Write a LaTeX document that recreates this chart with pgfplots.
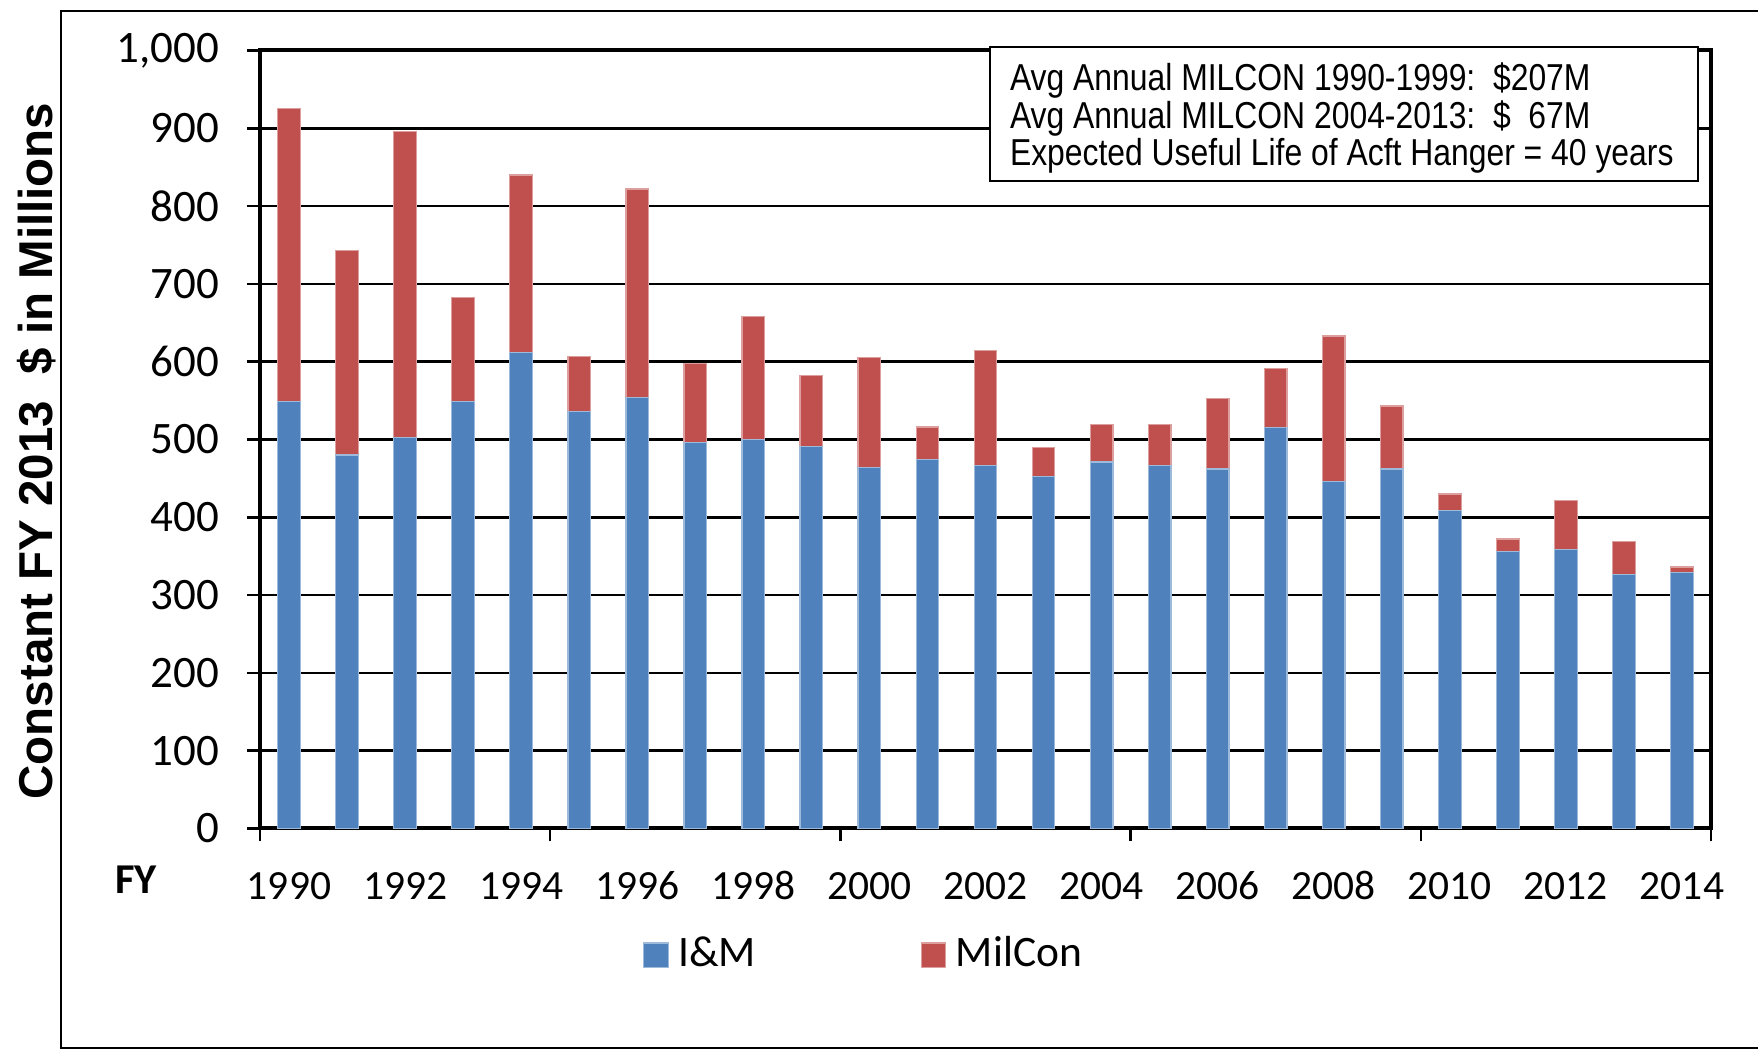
\documentclass[border=0pt]{standalone}
\usepackage{pgfplots}
\pgfplotsset{compat=1.18}
\usepackage{fontspec}
\setmainfont{Carlito}
\newfontfamily\arial{Liberation Sans}
\usepackage{graphicx}
\definecolor{imblue}{HTML}{4F81BD}
\definecolor{mcred}{HTML}{C0504D}
\begin{document}
\begin{tikzpicture}
\useasboundingbox (-52pt,-44.7pt) rectangle (299.6pt,165.7pt);
\draw[line width=0.4pt] (-39.7pt,-43.9pt) rectangle (320pt,163.5pt);
\begin{axis}[
  at={(0,0)}, anchor=south west,
  width=290.2pt, height=155.6pt, scale only axis,
  ybar stacked, bar width=0.39,
  xmin=-0.5, xmax=24.5, ymin=0, ymax=1000,
  xtick={-0.5,4.5,...,24.5}, xticklabels={},
  extra x ticks={0,2,...,24},
  extra x tick labels={1990,1992,1994,1996,1998,2000,2002,2004,2006,2008,2010,2012,2014},
  extra x tick style={major tick length=0pt, grid=none,
     tick label style={anchor=base, yshift=-14.2pt, inner sep=0pt}},
  ytick={0,100,...,1000},
  yticklabels={0,100,200,300,400,500,600,700,800,900,{1,000}},
  yticklabel style={anchor=east, inner sep=0pt, xshift=-5.4pt, font=\fontsize{9}{9}\selectfont},
  xticklabel style={font=\fontsize{8.3}{8.3}\selectfont},
  ymajorgrids, grid style={black, line width=0.5pt},
  axis line style={black, line width=0.8pt},
  tick style={black, line width=0.5pt}, tick align=outside, major tick length=2.6pt,
  tick pos=left,
  legend style={at={(0.253,-0.163)}, anchor=west, draw=none, fill=none,
     legend columns=2, font=\fontsize{8.7}{8.7}\selectfont,
     nodes={inner xsep=1.9pt, inner ysep=0pt},
     /tikz/every odd column/.append style={column sep=0pt},
     /tikz/every even column/.append style={column sep=31pt}},
  legend image code/.code={\fill[#1] (0pt,-2.45pt) rectangle (4.9pt,2.45pt);},
]
\addplot[fill=imblue, draw=imblue!55!white, line width=0.25pt] coordinates {
(0,549) (1,480) (2,503) (3,549) (4,612) (5,536) (6,554) (7,496) (8,500) (9,491)
(10,464) (11,474) (12,467) (13,452) (14,471) (15,467) (16,462) (17,515) (18,446) (19,462)
(20,409) (21,356) (22,359) (23,326) (24,329)};
\addplot[fill=mcred, draw=mcred!55!white, line width=0.25pt] coordinates {
(0,376) (1,263) (2,393) (3,133) (4,228) (5,71) (6,268) (7,102) (8,158) (9,91)
(10,141) (11,42) (12,147) (13,38) (14,48) (15,52) (16,91) (17,76) (18,187) (19,81)
(20,21) (21,16) (22,63) (23,43) (24,7)};
\legend{I\&M, MilCon}
\end{axis}
\node[font=\bfseries\fontsize{8.5}{8.5}\selectfont] at (-24.8pt,-10.3pt) {FY};
\node[rotate=90, font=\arial\bfseries\fontsize{9.5}{9.5}\selectfont] at (-44.6pt,75.5pt) {Constant FY 2013\ \ \$ in Millions};
\draw[line width=0.4pt, fill=white] (146pt,129.4pt) rectangle (287.6pt,156.3pt);
\begin{scope}[every node/.style={anchor=base west, inner sep=0pt, font=\arial\fontsize{7.5}{7.5}\selectfont}]
\node at (149.8pt,147.5pt) {\scalebox{0.85}[1]{Avg Annual MILCON 1990-1999:\ \ \$207M}};
\node at (149.8pt,140.0pt) {\scalebox{0.85}[1]{Avg Annual MILCON 2004-2013:\ \ \$\ \ 67M}};
\node at (149.8pt,132.6pt) {\scalebox{0.85}[1]{Expected Useful Life of Acft Hanger = 40 years}};
\end{scope}
\end{tikzpicture}
\end{document}
